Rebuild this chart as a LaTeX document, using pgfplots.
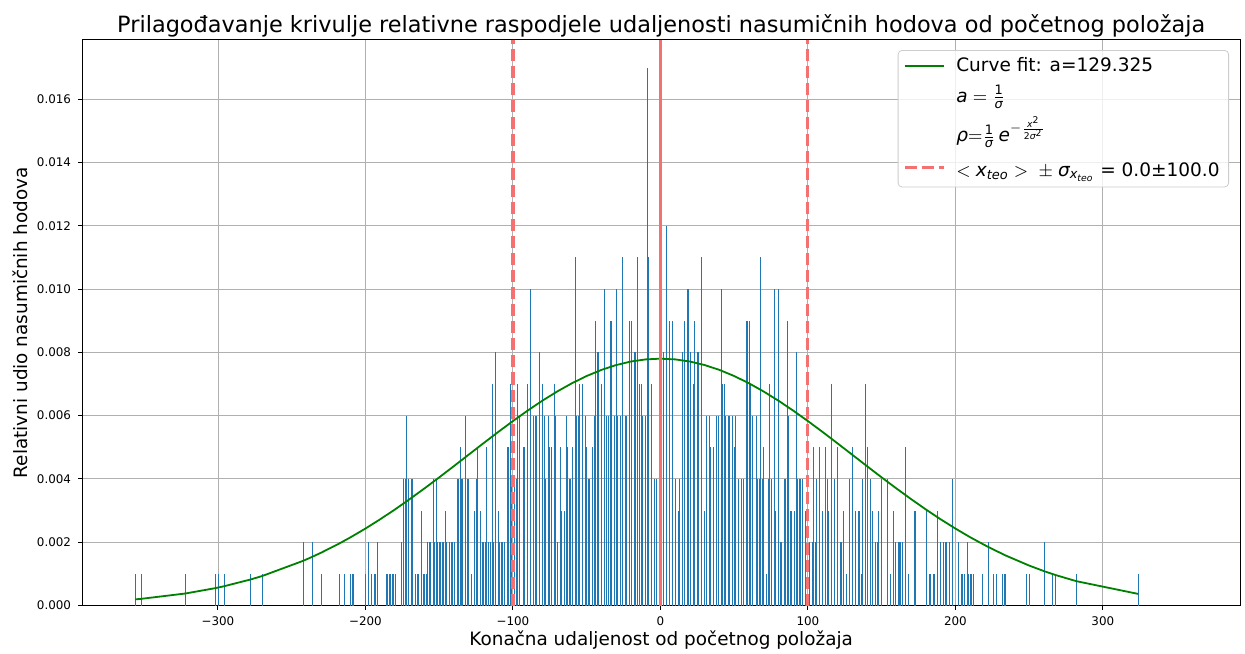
\documentclass[border=0pt]{standalone}
\usepackage{fontspec}
\setmainfont{DejaVu Sans}
\usepackage{amsmath}
\usepackage{pgfplots}
\usepackage{pgfplotstable}
\pgfplotsset{compat=1.18}
\definecolor{barblue}{HTML}{1F77B4}
\definecolor{fitgreen}{HTML}{008000}
\definecolor{vred}{RGB}{245,112,112}
\definecolor{gridgray}{HTML}{B0B0B0}

\pgfplotstableread{
x y
-356 0.001
-352 0.001
-322 0.001
-302 0.001
-300 0.001
-296 0.001
-278 0.001
-270 0.001
-242 0.002
-236 0.002
-230 0.001
-218 0.001
-214 0.001
-210 0.001
-209 0.001
-208 0.001
-200 0.001
-198 0.002
-196 0.001
-194 0.001
-193 0.001
-192 0.002
-186 0.001
-185 0.001
-184 0.001
-183 0.001
-182 0.001
-181 0.001
-180 0.001
-176 0.002
-174 0.004
-173 0.004
-172 0.006
-171 0.004
-169 0.004
-168 0.004
-166 0.001
-165 0.001
-164 0.001
-162 0.003
-161 0.001
-160 0.001
-159 0.001
-158 0.002
-157 0.002
-156 0.002
-154 0.004
-153 0.002
-152 0.004
-151 0.002
-150 0.002
-149 0.002
-148 0.002
-147 0.002
-146 0.003
-145 0.002
-143 0.002
-142 0.002
-141 0.002
-140 0.002
-138 0.004
-137 0.004
-136 0.005
-135 0.004
-134 0.004
-132 0.006
-131 0.004
-130 0.004
-128 0.001
-126 0.003
-125 0.004
-124 0.005
-122 0.003
-121 0.002
-120 0.002
-119 0.002
-118 0.005
-117 0.002
-115 0.002
-114 0.007
-113 0.002
-112 0.008
-110 0.003
-109 0.002
-108 0.002
-107 0.002
-106 0.002
-104 0.005
-103 0.005
-102 0.007
-101 0.004
-99 0.004
-98 0.004
-97 0.007
-96 0.006
-93 0.005
-92 0.005
-90 0.007
-88 0.010
-86 0.006
-85 0.006
-84 0.006
-82 0.008
-80 0.007
-79 0.006
-78 0.004
-76 0.006
-75 0.005
-74 0.005
-72 0.007
-71 0.006
-70 0.002
-68 0.005
-67 0.003
-65 0.003
-64 0.006
-63 0.005
-62 0.004
-61 0.004
-60 0.005
-58 0.011
-57 0.006
-56 0.006
-55 0.007
-53 0.007
-51 0.006
-50 0.005
-49 0.004
-48 0.004
-46 0.005
-45 0.006
-44 0.009
-43 0.008
-42 0.008
-40 0.007
-38 0.010
-37 0.006
-35 0.006
-34 0.009
-33 0.009
-31 0.006
-30 0.010
-29 0.006
-27 0.006
-26 0.011
-24 0.006
-23 0.006
-21 0.009
-20 0.009
-18 0.008
-17 0.008
-16 0.011
-14 0.007
-13 0.007
-12 0.006
-10 0.006
-9 0.017
-8 0.011
-6 0.007
-4 0.004
-3 0.004
2 0.008
4 0.012
6 0.009
8 0.009
10 0.004
12 0.003
13 0.004
15 0.008
16 0.009
18 0.010
19 0.010
20 0.008
22 0.007
23 0.009
25 0.008
26 0.008
28 0.011
30 0.003
31 0.006
33 0.006
34 0.005
36 0.005
38 0.006
39 0.006
41 0.010
42 0.007
43 0.007
44 0.006
46 0.006
47 0.006
49 0.006
50 0.005
51 0.006
53 0.004
55 0.004
56 0.004
58 0.009
59 0.009
60 0.009
61 0.007
62 0.006
65 0.006
66 0.004
67 0.004
68 0.011
69 0.004
70 0.005
72 0.001
73 0.004
74 0.007
75 0.004
77 0.010
78 0.003
80 0.010
81 0.002
82 0.002
84 0.004
85 0.004
86 0.009
87 0.006
88 0.003
89 0.003
91 0.003
92 0.008
93 0.004
94 0.004
95 0.004
96 0.004
98 0.003
101 0.002
103 0.002
104 0.005
105 0.002
106 0.004
108 0.005
110 0.003
112 0.005
113 0.004
114 0.003
116 0.007
118 0.004
120 0.005
122 0.002
123 0.002
124 0.003
126 0.001
128 0.004
130 0.005
132 0.003
134 0.003
135 0.003
136 0.001
137 0.004
139 0.007
140 0.005
142 0.004
144 0.003
146 0.002
147 0.002
148 0.003
150 0.004
154 0.004
156 0.001
158 0.003
159 0.002
161 0.002
162 0.002
163 0.002
164 0.002
166 0.005
168 0.001
172 0.003
173 0.003
180 0.003
182 0.001
183 0.001
185 0.001
186 0.001
188 0.003
190 0.002
192 0.002
193 0.002
194 0.002
196 0.002
198 0.004
202 0.002
204 0.001
205 0.001
206 0.001
208 0.002
209 0.001
210 0.001
211 0.001
212 0.001
218 0.001
222 0.002
226 0.001
228 0.001
232 0.001
233 0.001
234 0.001
248 0.001
250 0.001
260 0.002
266 0.001
268 0.001
282 0.001
324 0.001
}\bars

\pgfplotstableread{
x y
-356 0.000194
-352 0.000211
-322 0.000380
-302 0.000547
-296 0.000607
-278 0.000821
-270 0.000932
-242 0.001416
-236 0.001540
-230 0.001670
-218 0.001953
-210 0.002158
-200 0.002432
-190 0.002725
-180 0.003035
-170 0.003361
-160 0.003700
-150 0.004049
-140 0.004406
-130 0.004767
-120 0.005127
-110 0.005483
-100 0.005828
-90 0.006160
-80 0.006473
-70 0.006762
-60 0.007023
-50 0.007252
-40 0.007445
-30 0.007598
-20 0.007710
-10 0.007777
0 0.007800
10 0.007777
20 0.007710
30 0.007598
40 0.007445
50 0.007252
60 0.007023
70 0.006762
80 0.006473
90 0.006160
100 0.005828
110 0.005483
120 0.005127
130 0.004767
140 0.004406
150 0.004049
160 0.003700
170 0.003361
180 0.003035
190 0.002725
200 0.002432
210 0.002158
222 0.001856
234 0.001582
250 0.001263
260 0.001088
268 0.000962
282 0.000769
324 0.000366
}\fit

\begin{document}
\begin{tikzpicture}
\path[use as bounding box] (-41.15pt,-23.75pt) rectangle (581.35pt,302.75pt);
\begin{axis}[
  at={(0,0)}, anchor=south west,
  scale only axis, width=578.85pt, height=282.75pt,
  xmin=-392, xmax=393, ymin=0, ymax=0.01787,
  xtick={-300,-200,-100,0,100,200,300},
  xticklabels={−300,−200,−100,0,100,200,300},
  ytick={0,0.002,0.004,0.006,0.008,0.010,0.012,0.014,0.016},
  yticklabels={0.000,0.002,0.004,0.006,0.008,0.010,0.012,0.014,0.016},
  scaled y ticks=false,
  tick pos=left,
  tick align=outside,
  major tick length=2.1pt,
  every tick/.style={black, line width=0.5pt},
  grid=major,
  major grid style={gridgray, line width=0.48pt},
  axis line style={black, line width=0.5pt},
  ticklabel style={font=\fontsize{5.95}{7}\selectfont},
  label style={font=\fontsize{9.2}{11}\selectfont},
  every axis title shift=0pt,
  title={Prilagođavanje krivulje relativne raspodjele udaljenosti nasumičnih hodova od početnog položaja},
  title style={font=\fontsize{11.2}{13}\selectfont, at={(axis description cs:0.5,1.01362)}, anchor=base},
  xlabel={Konačna udaljenost od početnog položaja},
  xlabel style={at={(axis description cs:0.5,-0.0707)}, anchor=base},
  ylabel={Relativni udio nasumičnih hodova},
  ylabel style={at={(axis description cs:-0.0473,0.5)}, anchor=base},
  legend style={at={(axis description cs:0.9905,0.9823)}, anchor=north east,
    draw=black!20, rounded corners=2pt, fill=white, fill opacity=0.8, text opacity=1,
    font=\fontsize{9.25}{11}\selectfont, inner xsep=2.5pt, inner ysep=1.5pt, row sep=1.5pt, column sep=3.5pt},
  legend cell align=left,
  legend image code/.code={\draw[#1] (0pt,0pt) -- (19.5pt,0pt);},
]
\addplot[ycomb, barblue, line width=0.32pt, mark=none, forget plot] table {\bars};
\addplot[fitgreen, line width=0.9pt, mark=none] table {\fit};
\addlegendentry{Curve fit: a=129.325}
\addlegendimage{empty legend}
\addlegendentry{$\textit{a}=\frac{\text{1}}{\textit{σ}}$}
\addlegendimage{empty legend}
\addlegendentry{$\textit{ρ}{=}\frac{\text{1}}{\textit{σ}}\,\textit{e}^{-\frac{\textit{x}^{\text{2}}}{\text{2}\textit{σ}^{\text{2}}}}$}
\addplot[vred, line width=1.6pt, mark=none, forget plot] coordinates {(0,0) (0,0.01787)};
\addplot[vred, line width=1.6pt, mark=none, dash pattern=on 6pt off 2.5pt] coordinates {(-100,0) (-100,0.01787)};
\addlegendentry{\rule{0pt}{1.15em}$<\textit{x}_{\textit{teo}}>\;\pm\;\textit{σ}_{\textit{x}_{\textit{teo}}}$ = 0.0±100.0}
\addplot[vred, line width=1.6pt, mark=none, dash pattern=on 6pt off 2.5pt, forget plot] coordinates {(100,0) (100,0.01787)};
\end{axis}
\end{tikzpicture}
\end{document}
